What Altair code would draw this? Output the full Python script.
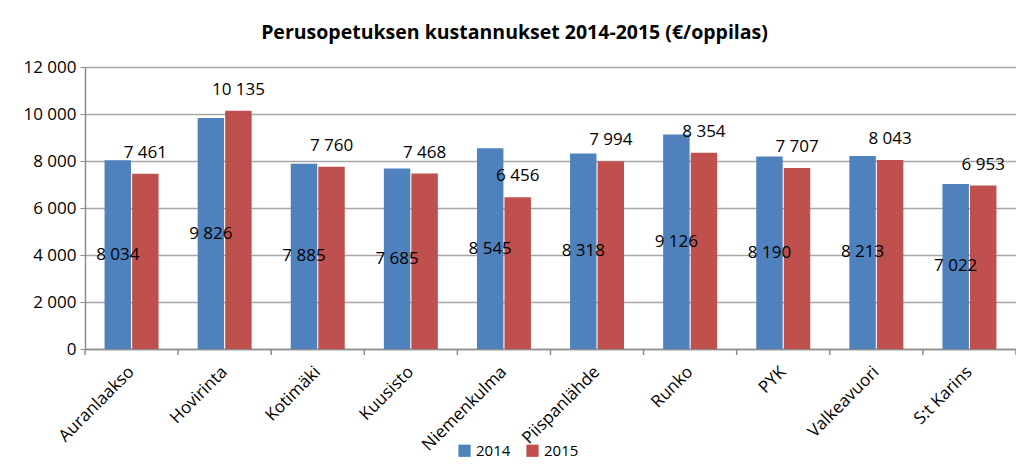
import altair as alt
import pandas as pd

schools = ["Auranlaakso", "Hovirinta", "Kotimäki", "Kuusisto", "Niemenkulma",
           "Piispanlähde", "Runko", "PYK", "Valkeavuori", "S:t Karins"]
v2014 = [8034, 9826, 7885, 7685, 8545, 8318, 9126, 8190, 8213, 7022]
v2015 = [7461, 10135, 7760, 7468, 6456, 7994, 8354, 7707, 8043, 6953]
years = ["2014", "2015"]
colors = ["#4F81BD", "#C0504D"]

rows = []
for s, a, b in zip(schools, v2014, v2015):
    rows.append({"school": s, "year": "2014", "value": a})
    rows.append({"school": s, "year": "2015", "value": b})
df = pd.DataFrame(rows)
tick_df = pd.DataFrame({"school": schools})

FONT = "Open Sans"
W = 931
PI = 0.42
STEP = W / 10.0
HALF_GAP = STEP * PI / 2

xscale = alt.Scale(domain=schools, paddingInner=PI, paddingOuter=PI / 2)
xoff = alt.Scale(domain=years, paddingInner=0.04)

base = alt.Chart(df).transform_calculate(
    half="datum.value / 2",
    lab="replace(format(datum.value, ','), ',', ' ')"
)

bars = base.mark_bar().encode(
    x=alt.X("school:N", scale=xscale, sort=schools,
            axis=alt.Axis(title=None, labelAngle=-45, labelAlign="right",
                          labelBaseline="middle", labelFont=FONT, labelFontSize=17,
                          labelColor="black", ticks=False, domainColor="#8c8c8c",
                          labelPadding=20, domainWidth=1.5)),
    xOffset=alt.XOffset("year:N", scale=xoff),
    y=alt.Y("value:Q", scale=alt.Scale(domain=[0, 12000], nice=False),
            axis=alt.Axis(title=None, values=list(range(0, 12001, 2000)),
                          labelExpr="replace(format(datum.value, ','), ',', ' ')",
                          labelFont=FONT, labelFontSize=17, labelColor="black",
                          gridColor="#a6a6a6", gridWidth=1.5, domainColor="#8c8c8c",
                          domainWidth=1.5, tickColor="#8c8c8c", tickSize=5,
                          labelPadding=4)),
    color=alt.Color("year:N", scale=alt.Scale(domain=years, range=colors),
                    legend=alt.Legend(title=None, orient="none", legendX=372, legendY=376,
                                      direction="horizontal", symbolType="square",
                                      symbolSize=150, labelFont=FONT, labelFontSize=15,
                                      labelColor="black", columnPadding=14,
                                      symbolStrokeWidth=0))
)

ticks_a = alt.Chart(tick_df).mark_rule(
    color="#8c8c8c", strokeWidth=1.5, xOffset=-HALF_GAP
).encode(
    x=alt.X("school:N", scale=xscale, sort=schools, bandPosition=0),
    y=alt.value(282), y2=alt.value(288)
)
ticks_b = alt.Chart(tick_df).transform_filter(
    alt.datum.school == schools[-1]
).mark_rule(color="#8c8c8c", strokeWidth=1.5, xOffset=HALF_GAP).encode(
    x=alt.X("school:N", scale=xscale, sort=schools, bandPosition=1),
    y=alt.value(282), y2=alt.value(288)
)

t14 = base.transform_filter("datum.year == '2014'").mark_text(
    font=FONT, fontSize=17, color="black", baseline="middle"
).encode(
    x=alt.X("school:N", scale=xscale, sort=schools),
    xOffset=alt.XOffset("year:N", scale=xoff),
    y=alt.Y("half:Q"),
    text="lab:N"
)

t15 = base.transform_filter("datum.year == '2015'").mark_text(
    font=FONT, fontSize=17, color="black", baseline="middle", dy=-21
).encode(
    x=alt.X("school:N", scale=xscale, sort=schools),
    xOffset=alt.XOffset("year:N", scale=xoff),
    y=alt.Y("value:Q"),
    text="lab:N"
)

chart = alt.layer(bars, ticks_a, ticks_b, t14, t15).properties(
    width=W, height=282,
    title=alt.TitleParams("Perusopetuksen kustannukset 2014-2015 (€/oppilas)",
                          font=FONT, fontSize=19.5, fontWeight="bold", color="black",
                          anchor="middle", dx=-36, offset=15),
    autosize=alt.AutoSizeParams(type="none"),
    padding={"left": 77, "top": 59, "right": 0, "bottom": 114}
).configure_view(stroke=None)

chart.save("out.html", embed_options={"renderer": "svg", "actions": False})
